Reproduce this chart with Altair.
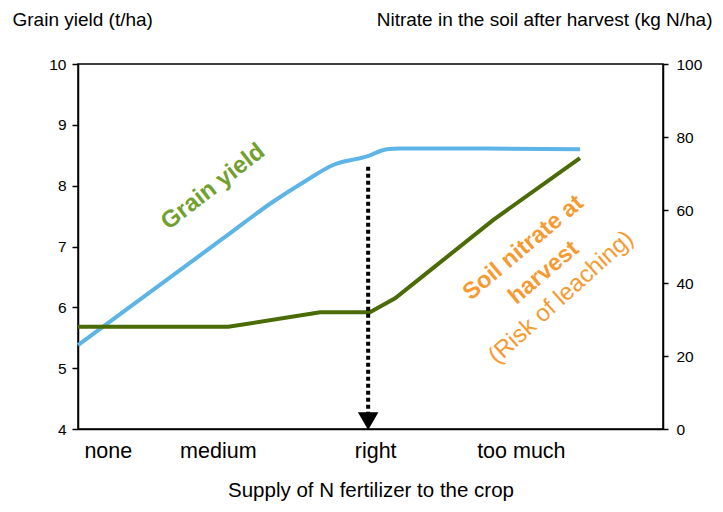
import altair as alt
import pandas as pd

# ---- data ----
supply_x = [0, 24.9, 33.4, 39.1, 43.6, 49.4, 52.8, 55.0, 70.0, 85.8]
grain_yield = [5.38, 7.14, 7.74, 8.09, 8.34, 8.48, 8.60, 8.61, 8.61, 8.60]

nitrate_x = [0, 25.7, 41.4, 49.9, 54.2, 59.6, 71.0, 85.8]
soil_nitrate = [28.0, 28.0, 32.0, 32.0, 35.8, 42.7, 57.3, 74.2]

category_pos = [5.1, 23.9, 50.8, 75.7]
category_labels = ["none", "medium", "right", "too much"]

yield_ticks = [4, 5, 6, 7, 8, 9, 10]
nitrate_ticks = [0, 20, 40, 60, 80, 100]

optimum_x = [49.6]
optimum_top = [8.31]
optimum_bottom = [4.2]
arrow_tip = [4.13]

FONT = "Liberation Sans"
BLUE = "#5db4e6"
DKGREEN = "#4a6b06"
LTGREEN = "#72a02e"
ORANGE = "#f79a32"

df_yield = pd.DataFrame({"x": supply_x, "v": grain_yield})
df_nit = pd.DataFrame({"x": nitrate_x, "v": soil_nitrate})
df_arrow = pd.DataFrame({"x": optimum_x, "v": optimum_top, "v2": optimum_bottom})
df_head = pd.DataFrame({"x": optimum_x, "v": arrow_tip})

label_expr = " : ".join(
    f"datum.value == {p} ? '{t}'" for p, t in zip(category_pos, category_labels)
) + " : ''"

x_axis = alt.Axis(
    title="Supply of N fertilizer to the crop", values=category_pos, labelExpr=label_expr,
    ticks=False, grid=False, labelFontSize=21.5, labelFont=FONT, labelColor="black",
    labelPadding=11, titleFont=FONT, titleFontSize=20.5, titleFontWeight="normal",
    titleColor="black", titlePadding=19, domainColor="black", domainWidth=1.5,
    labelAngle=0,
)
x_enc = alt.X("x:Q", scale=alt.Scale(domain=[0, 100], nice=False, zero=False), axis=x_axis)

y_scale_yield = alt.Scale(domain=[4, 10], nice=False, zero=False)
y_scale_nit = alt.Scale(domain=[0, 100], nice=False, zero=False)

left_axis = alt.Axis(
    title="Grain yield (t/ha)", values=yield_ticks, grid=False, titleAngle=0,
    titleAlign="left", titleBaseline="alphabetic", titleX=-66, titleY=-39,
    titleFont=FONT, titleFontSize=19, titleFontWeight="normal", titleColor="black",
    labelFont=FONT, labelFontSize=15.5, labelColor="black", labelPadding=6,
    tickSize=6, tickColor="black", tickWidth=1.5, domainColor="black", domainWidth=1.5,
)
right_axis = alt.Axis(
    title="Nitrate in the soil after harvest (kg N/ha)", orient="right", values=nitrate_ticks,
    grid=False, titleAngle=0, titleAlign="right", titleBaseline="alphabetic", titleX=49,
    titleY=-39, titleFont=FONT, titleFontSize=19, titleFontWeight="normal",
    titleColor="black", labelFont=FONT, labelFontSize=15.5, labelColor="black",
    labelPadding=8, tickSize=5, tickColor="black", tickWidth=1.5, domainColor="black",
    domainWidth=1.5,
)

yield_line = alt.Chart(df_yield).mark_line(
    color=BLUE, strokeWidth=4, interpolate="monotone"
).encode(x=x_enc, y=alt.Y("v:Q", scale=y_scale_yield, axis=left_axis))

nit_line = alt.Chart(df_nit).mark_line(color=DKGREEN, strokeWidth=4).encode(
    x=x_enc, y=alt.Y("v:Q", scale=y_scale_nit, axis=right_axis)
)

arrow = alt.Chart(df_arrow).mark_rule(
    color="black", strokeWidth=4, strokeDash=[4, 3]
).encode(x=x_enc, y=alt.Y("v:Q", scale=y_scale_yield, axis=None), y2="v2:Q")

head = alt.Chart(df_head).mark_point(
    shape="triangle-down", filled=True, color="black", opacity=1, size=420
).encode(x=x_enc, y=alt.Y("v:Q", scale=y_scale_yield, axis=None))

annot_grain = pd.DataFrame({"x": [23.1], "v": [7.98], "t": ["Grain yield"]})
annot_soil = pd.DataFrame({"x": [76.1, 79.6], "v": [6.98, 6.57], "t": ["Soil nitrate at", "harvest"]})
annot_risk = pd.DataFrame({"x": [82.6], "v": [6.16], "t": ["(Risk of leaching)"]})


def text_layer(df, color, size, weight, angle):
    return alt.Chart(df).mark_text(
        color=color, font=FONT, fontSize=size, fontWeight=weight, angle=angle,
        align="center", baseline="middle",
    ).encode(x=x_enc, y=alt.Y("v:Q", scale=y_scale_yield, axis=None), text="t:N")


t1 = text_layer(annot_grain, LTGREEN, 24, "bold", 322)
t2 = text_layer(annot_soil, ORANGE, 23.5, "bold", 320)
t3 = text_layer(annot_risk, ORANGE, 24, "normal", 318)

chart = alt.layer(yield_line, nit_line, arrow, head, t1, t2, t3).resolve_scale(
    y="independent"
).properties(
    width=585, height=365,
    autosize=alt.AutoSizeParams(type="none"),
    padding={"left": 70, "top": 56, "right": 52, "bottom": 75},
).configure_view(stroke="black", strokeWidth=1.5)

chart.save("out.html", embed_options={"renderer": "svg", "actions": False})
